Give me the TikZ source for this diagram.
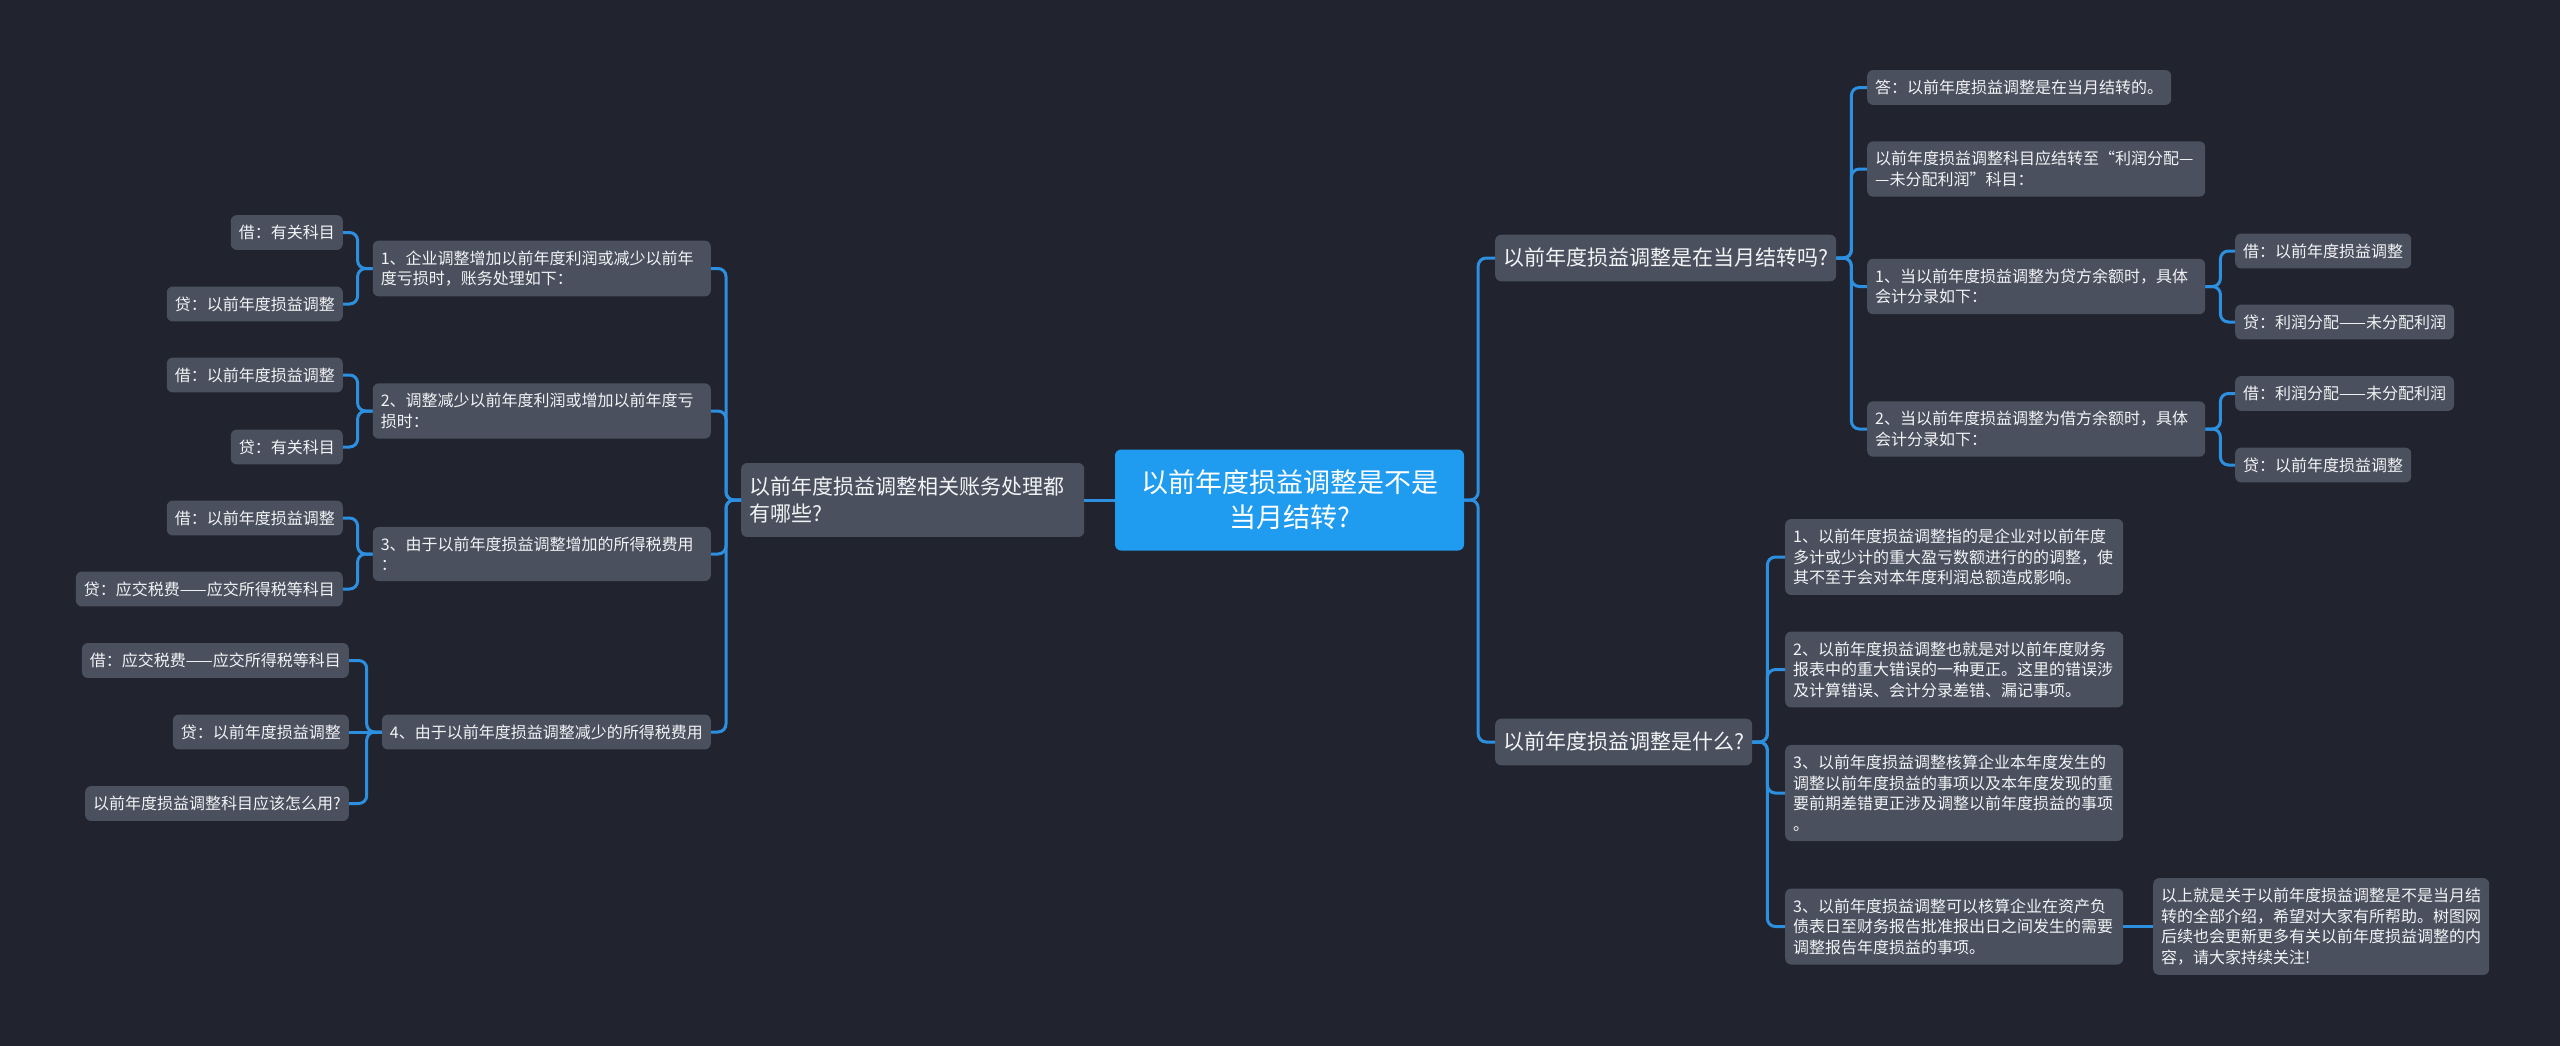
\documentclass[tikz,border=0pt]{standalone}
\usepackage{fontspec}
\setmainfont{Noto Sans CJK SC}
\usetikzlibrary{positioning}

\definecolor{bgdark}{HTML}{21242E}
\definecolor{nodegray}{HTML}{4A505E}
\definecolor{linkblue}{HTML}{2C8FE0}
\definecolor{rootblue}{HTML}{1F9BF0}
\definecolor{txtwhite}{HTML}{F2F3F5}

\begin{document}
\begin{tikzpicture}[x=1pt,y=-1pt,
    leaf/.style={fill=nodegray, rounded corners=6, text=txtwhite, align=left,
        font=\fontsize{16}{20.5}\selectfont, inner xsep=8, inner ysep=10},
    topic/.style={fill=nodegray, rounded corners=6, text=txtwhite, align=left,
        font=\fontsize{21}{27.5}\selectfont, inner xsep=8, inner ysep=13.5},
    rootbox/.style={fill=rootblue, rounded corners=6, text=white, align=center,
        font=\fontsize{27}{35}\selectfont, minimum width=349, minimum height=101},
    link/.style={draw=linkblue, line width=3, rounded corners=8}]

        \useasboundingbox (0,0) rectangle (2560,1045);
        \fill[bgdark] (-10,-10) rectangle (2570,1055);

        \node[rootbox] (root) at (1289.5,500) {以前年度损益调整是不是\\当月结转?};

        % left branch
        \node[topic, anchor=west, text width=327] (lhow) at (741,500) {以前年度损益调整相关账务处理都\\有哪些?};

        \node[leaf, anchor=east, text width=322] (ga) at (711,268.5) {1、企业调整增加以前年度利润或减少以前年\\度亏损时，账务处理如下：};
        \node[leaf, anchor=east, text width=322] (gb) at (711,411) {2、调整减少以前年度利润或增加以前年度亏\\损时：};
        \node[leaf, anchor=east, text width=322] (gc) at (711,554) {3、由于以前年度损益调整增加的所得税费用\\：};
        \node[leaf, anchor=east] (gd) at (711,732) {4、由于以前年度损益调整减少的所得税费用};

        \node[leaf, anchor=east] (ga1) at (343,232.5) {借：有关科目};
        \node[leaf, anchor=east] (ga2) at (343,304) {贷：以前年度损益调整};
        \node[leaf, anchor=east] (gb1) at (343,375) {借：以前年度损益调整};
        \node[leaf, anchor=east] (gb2) at (343,447) {贷：有关科目};
        \node[leaf, anchor=east] (gc1) at (343,518) {借：以前年度损益调整};
        \node[leaf, anchor=east] (gc2) at (343,589) {贷：应交税费——应交所得税等科目};
        \node[leaf, anchor=east] (gd1) at (349,660.5) {借：应交税费——应交所得税等科目};
        \node[leaf, anchor=east] (gd2) at (349,732) {贷：以前年度损益调整};
        \node[leaf, anchor=east] (gd3) at (349,803.5) {以前年度损益调整科目应该怎么用?};

        % right branch
        \node[topic, anchor=west] (qmonth) at (1495,258) {以前年度损益调整是在当月结转吗?};
        \node[topic, anchor=west] (qwhat) at (1495,742) {以前年度损益调整是什么?};

        \node[leaf, anchor=west] (ma) at (1867,87.5) {答：以前年度损益调整是在当月结转的。};
        \node[leaf, anchor=west, text width=322] (mb) at (1867,169) {以前年度损益调整科目应结转至“利润分配—\\—未分配利润”科目：};
        \node[leaf, anchor=west, text width=322] (mc) at (1867,286.5) {1、当以前年度损益调整为贷方余额时，具体\\会计分录如下：};
        \node[leaf, anchor=west, text width=322] (md) at (1867,429) {2、当以前年度损益调整为借方余额时，具体\\会计分录如下：};

        \node[leaf, anchor=west] (mc1) at (2235,251) {借：以前年度损益调整};
        \node[leaf, anchor=west] (mc2) at (2235,322) {贷：利润分配——未分配利润};
        \node[leaf, anchor=west] (md1) at (2235,393.5) {借：利润分配——未分配利润};
        \node[leaf, anchor=west] (md2) at (2235,465) {贷：以前年度损益调整};

        \node[leaf, anchor=west, text width=322] (wa) at (1785,557) {1、以前年度损益调整指的是企业对以前年度\\多计或少计的重大盈亏数额进行的的调整，使\\其不至于会对本年度利润总额造成影响。};
        \node[leaf, anchor=west, text width=322] (wb) at (1785,669.5) {2、以前年度损益调整也就是对以前年度财务\\报表中的重大错误的一种更正。这里的错误涉\\及计算错误、会计分录差错、漏记事项。};
        \node[leaf, anchor=west, text width=322] (wc) at (1785,793) {3、以前年度损益调整核算企业本年度发生的\\调整以前年度损益的事项以及本年度发现的重\\要前期差错更正涉及调整以前年度损益的事项\\。};
        \node[leaf, anchor=west, text width=322] (wd) at (1785,926.5) {3、以前年度损益调整可以核算企业在资产负\\债表日至财务报告批准报出日之间发生的需要\\调整报告年度损益的事项。};
        \node[leaf, anchor=west, text width=320] (wend) at (2153,926.5) {以上就是关于以前年度损益调整是不是当月结\\转的全部介绍，希望对大家有所帮助。树图网\\后续也会更新更多有关以前年度损益调整的内\\容，请大家持续关注!};

        % connectors
        \coordinate (tl) at ([xshift=-15]lhow.west);
        \coordinate (tr) at ([xshift=14]root.east);

        \draw[link] (root.west) -- (lhow.east);
        \foreach \k in {qmonth,qwhat}
            \draw[link] (root.east) -- (tr) |- (\k.west);
        \foreach \k in {ga,gb,gc,gd}
            \draw[link] (lhow.west) -- (tl) |- (\k.east);
        \foreach \p/\c in {ga/ga1,ga/ga2,gb/gb1,gb/gb2,gc/gc1,gc/gc2,gd/gd1,gd/gd3}
            \draw[link] (\p.west) -- ++(-15,0) |- (\c.east);
        \draw[link] (gd.west) -- (gd2.east);
        \foreach \p/\c in {qmonth/ma,qmonth/mb,qmonth/mc,qmonth/md,mc/mc1,mc/mc2,md/md1,md/md2,qwhat/wa,qwhat/wb,qwhat/wc,qwhat/wd}
            \draw[link] (\p.east) -- ++(15,0) |- (\c.west);
        \draw[link] (wd.east) -- (wend.west);

\end{tikzpicture}
\end{document}
